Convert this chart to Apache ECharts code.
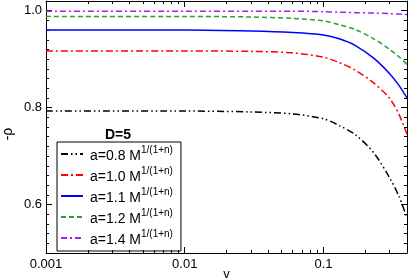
<!DOCTYPE html>
<html>
<head>
<meta charset="utf-8">
<script src="https://cdn.jsdelivr.net/npm/echarts@6/dist/echarts.min.js"></script>
<style>
html,body{margin:0;padding:0;background:#fff;}
#c{width:409px;height:280px;}
</style>
</head>
<body>
<div id="c"></div>
<script>
// ---- data ----
const vValues = [0.001, 0.01, 0.03, 0.06, 0.1, 0.13, 0.17, 0.23, 0.3, 0.35, 0.4];
const rhoA08 = [0.793, 0.793, 0.791, 0.787, 0.777, 0.763, 0.744, 0.707, 0.655, 0.617, 0.572];
const rhoA10 = [0.917, 0.917, 0.916, 0.913, 0.904, 0.893, 0.877, 0.851, 0.819, 0.786, 0.745];
const rhoA11 = [0.960, 0.960, 0.958, 0.955, 0.950, 0.942, 0.928, 0.902, 0.870, 0.846, 0.820];
const rhoA12 = [0.988, 0.988, 0.987, 0.984, 0.979, 0.971, 0.961, 0.942, 0.920, 0.905, 0.889];
const rhoA14 = [0.999, 0.999, 0.999, 0.999, 0.998, 0.997, 0.996, 0.995, 0.994, 0.993, 0.992];
const seriesNames = ['a=0.8', 'a=1.0', 'a=1.1', 'a=1.2', 'a=1.4'];
const xMajorTicks = [0.001, 0.01, 0.1];
const xMinorTicks = [0.002,0.003,0.004,0.005,0.006,0.007,0.008,0.009,
                     0.02,0.03,0.04,0.05,0.06,0.07,0.08,0.09,0.2,0.3];
const yMajorTicks = [0.6, 0.8, 1.0];
const xRange = [0.001, 0.4];
const yRange = [0.5, 1.02];
const yMinorStep = 0.02;

// ---- chart ----
const chart = echarts.init(document.getElementById('c'), null, {renderer: 'canvas'});
const FONT = 'Liberation Sans, Arial, sans-serif';
const pair = (xs, ys) => xs.map((x, i) => [x, ys[i]]);
const lineSeries = (name, ys, color, type) => ({
  name: name, type: 'line', data: pair(vValues, ys), smooth: 0.3, symbol: 'none',
  xAxisIndex: 0, yAxisIndex: 0,
  lineStyle: {color: color, width: 1.5, type: type}, itemStyle: {color: color},
  emphasis: {disabled: true}
});
const axisLine = {show: true, onZero: false, lineStyle: {color: '#000', width: 1}};
const logMin = Math.log10(xRange[0]), logMax = Math.log10(xRange[1]);

chart.setOption({
  animation: false,
  backgroundColor: '#fff',
  grid: {left: 46, top: 1, right: 2, bottom: 27, containLabel: false, outerBoundsMode: 'none'},
  graphic: [
    {type: 'text', left: 105, top: 128, style: {text: 'D=5', font: 'bold 14px ' + FONT, fill: '#000'}},
    {type: 'text', x: 8, y: 134, rotation: Math.PI / 2,
     style: {text: '-ρ', font: '14px ' + FONT, fill: '#000', align: 'center', verticalAlign: 'middle'}}
  ],
  legend: {
    orient: 'vertical', left: 57, top: 142,
    borderColor: '#000', borderWidth: 1, padding: [3, 8, 4, 3], itemGap: 3,
    itemWidth: 22, itemHeight: 14,
    itemStyle: {color: 'rgba(0,0,0,0)', borderColor: 'rgba(0,0,0,0)', borderWidth: 0, opacity: 0},
    data: seriesNames,
    formatter: n => '{m|' + n + ' M}{s|1/(1+n)}',
    textStyle: {
      color: '#000',
      rich: {
        m: {fontSize: 14, fontFamily: FONT, color: '#000', verticalAlign: 'bottom', padding: [4, 0, 0, 2]},
        s: {fontSize: 10, fontFamily: FONT, color: '#000', verticalAlign: 'top'}
      }
    }
  },
  xAxis: [
    {type: 'log', position: 'bottom', min: xRange[0], max: xRange[1], logBase: 10,
     axisLine: axisLine, splitLine: {show: false},
     axisTick: {show: true, inside: true, length: 6, lineStyle: {color: '#000'}, customValues: xMajorTicks},
     axisLabel: {show: true, customValues: xMajorTicks, margin: 5, fontSize: 13, fontFamily: FONT, color: '#000',
                 formatter: v => String(+Number(v).toPrecision(1))},
     name: 'v', nameLocation: 'middle', nameGap: 15, nameMoveOverlap: false,
     nameTextStyle: {fontSize: 13, fontFamily: FONT, color: '#000'}},
    {type: 'log', position: 'top', min: xRange[0], max: xRange[1], logBase: 10,
     axisLine: axisLine, splitLine: {show: false},
     axisTick: {show: true, inside: true, length: 6, lineStyle: {color: '#000'}, customValues: xMajorTicks},
     axisLabel: {show: false}},
    {type: 'value', position: 'bottom', min: logMin, max: logMax,
     axisLine: {show: false}, splitLine: {show: false}, axisLabel: {show: false},
     axisTick: {show: true, inside: true, length: 3, lineStyle: {color: '#000'},
                customValues: xMinorTicks.map(v => Math.log10(v))}},
    {type: 'value', position: 'top', min: logMin, max: logMax,
     axisLine: {show: false}, splitLine: {show: false}, axisLabel: {show: false},
     axisTick: {show: true, inside: true, length: 3, lineStyle: {color: '#000'},
                customValues: xMinorTicks.map(v => Math.log10(v))}}
  ],
  yAxis: [
    {type: 'value', position: 'left', min: yRange[0], max: yRange[1],
     axisLine: axisLine, splitLine: {show: false},
     axisTick: {show: true, inside: true, length: 6, lineStyle: {color: '#000'}, customValues: yMajorTicks},
     axisLabel: {show: true, customValues: yMajorTicks, margin: 4, fontSize: 13, fontFamily: FONT, color: '#000',
                 formatter: v => Number(v).toFixed(1)}},
    {type: 'value', position: 'right', min: yRange[0], max: yRange[1],
     axisLine: axisLine, splitLine: {show: false},
     axisTick: {show: true, inside: true, length: 6, lineStyle: {color: '#000'}, customValues: yMajorTicks},
     axisLabel: {show: false}},
    {type: 'value', position: 'left', min: yRange[0], max: yRange[1], interval: yMinorStep,
     axisLine: {show: false}, splitLine: {show: false}, axisLabel: {show: false},
     axisTick: {show: true, inside: true, length: 3, lineStyle: {color: '#000'}}},
    {type: 'value', position: 'right', min: yRange[0], max: yRange[1], interval: yMinorStep,
     axisLine: {show: false}, splitLine: {show: false}, axisLabel: {show: false},
     axisTick: {show: true, inside: true, length: 3, lineStyle: {color: '#000'}}}
  ],
  series: [
    lineSeries(seriesNames[0], rhoA08, '#000000', [7, 3, 1.5, 3, 1.5, 3]),
    lineSeries(seriesNames[1], rhoA10, '#ff0000', [7, 3, 2, 3]),
    lineSeries(seriesNames[2], rhoA11, '#0000ff', 'solid'),
    lineSeries(seriesNames[3], rhoA12, '#2ca02c', [5, 3]),
    lineSeries(seriesNames[4], rhoA14, '#a020f0', [6, 3, 2, 3])
  ]
});
</script>
</body>
</html>
